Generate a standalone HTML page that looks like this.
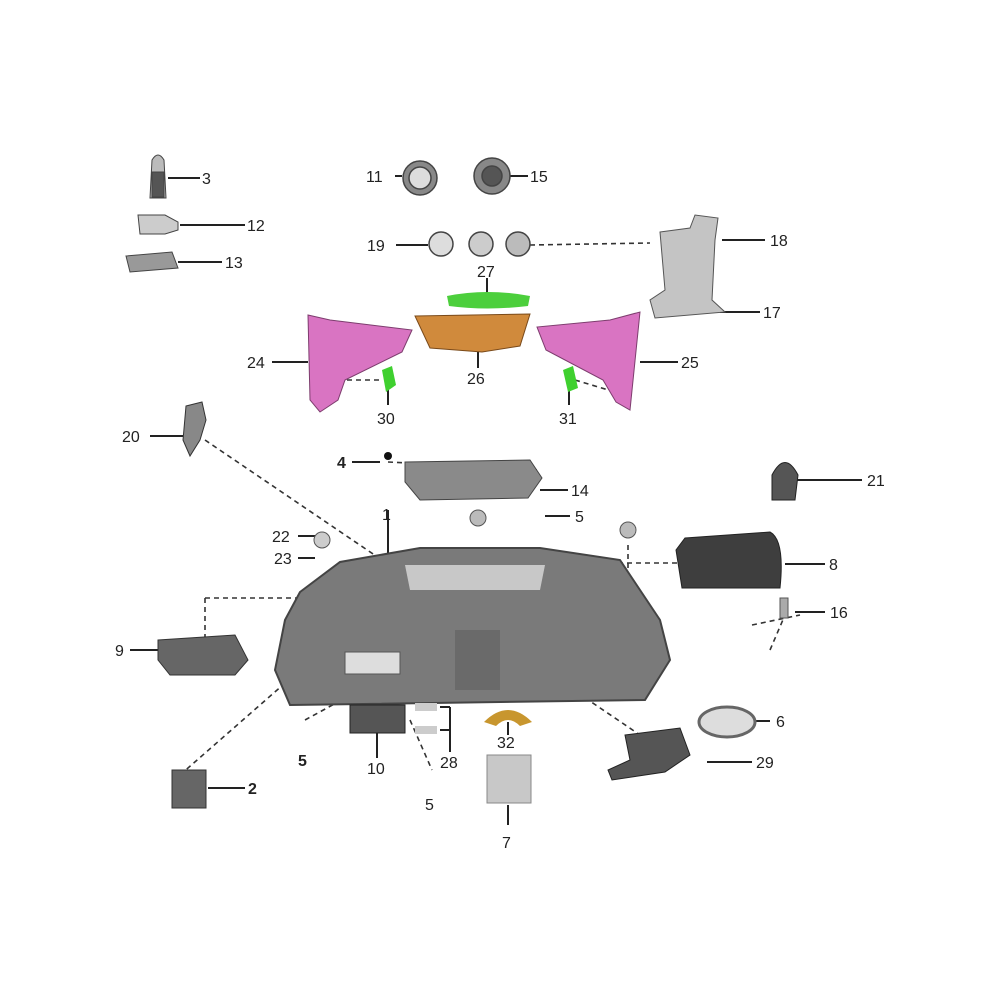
<!DOCTYPE html>
<html><head><meta charset="utf-8"><style>
html,body{margin:0;padding:0;background:#fff;}
svg{display:block}
text{font-family:"Liberation Sans",sans-serif;font-size:16px;fill:#222;}
</style></head><body>
<svg width="1000" height="1000" viewBox="0 0 1000 1000">
<rect width="1000" height="1000" fill="#fff"/>
<g stroke="#222" stroke-width="2" fill="none">
<!-- leader lines -->
<line x1="168" y1="178" x2="200" y2="178"/>
<line x1="180" y1="225" x2="245" y2="225"/>
<line x1="178" y1="262" x2="222" y2="262"/>
<line x1="395" y1="176" x2="402" y2="176"/>
<line x1="510" y1="176" x2="528" y2="176"/>
<line x1="396" y1="245" x2="428" y2="245"/>
<line x1="722" y1="240" x2="765" y2="240"/>
<line x1="720" y1="312" x2="760" y2="312"/>
<line x1="487" y1="278" x2="487" y2="296"/>
<line x1="272" y1="362" x2="308" y2="362"/>
<line x1="640" y1="362" x2="678" y2="362"/>
<line x1="478" y1="350" x2="478" y2="368"/>
<line x1="388" y1="385" x2="388" y2="405"/>
<line x1="569" y1="385" x2="569" y2="405"/>
<line x1="150" y1="436" x2="185" y2="436"/>
<line x1="352" y1="462" x2="380" y2="462"/>
<line x1="540" y1="490" x2="568" y2="490"/>
<line x1="545" y1="516" x2="570" y2="516"/>
<line x1="795" y1="480" x2="862" y2="480"/>
<line x1="785" y1="564" x2="825" y2="564"/>
<line x1="795" y1="612" x2="825" y2="612"/>
<line x1="298" y1="536" x2="315" y2="536"/>
<line x1="298" y1="558" x2="315" y2="558"/>
<line x1="388" y1="510" x2="388" y2="562"/>
<line x1="130" y1="650" x2="158" y2="650"/>
<line x1="208" y1="788" x2="245" y2="788"/>
<line x1="752" y1="721" x2="770" y2="721"/>
<line x1="707" y1="762" x2="752" y2="762"/>
<line x1="377" y1="730" x2="377" y2="758"/>
<line x1="440" y1="707" x2="450" y2="707"/><line x1="450" y1="707" x2="450" y2="752"/><line x1="440" y1="730" x2="450" y2="730"/>
<line x1="508" y1="722" x2="508" y2="735"/>
<line x1="508" y1="805" x2="508" y2="825"/>
</g>
<!-- dashed lines -->
<g stroke="#333" stroke-width="1.6" stroke-dasharray="5,4" fill="none">
<line x1="530" y1="245" x2="650" y2="243"/>
<line x1="338" y1="380" x2="380" y2="380"/>
<line x1="575" y1="380" x2="615" y2="392"/>
<line x1="205" y1="440" x2="640" y2="735"/>
<line x1="388" y1="462" x2="540" y2="470"/>
<line x1="600" y1="563" x2="680" y2="563"/>
<line x1="628" y1="545" x2="628" y2="580"/>
<line x1="205" y1="598" x2="595" y2="598"/>
<line x1="205" y1="598" x2="205" y2="638"/>
<line x1="180" y1="775" x2="300" y2="670"/>
<line x1="305" y1="720" x2="360" y2="690"/>
<line x1="410" y1="720" x2="432" y2="770"/>
<line x1="752" y1="625" x2="800" y2="615"/>
<line x1="770" y1="650" x2="785" y2="615"/>
</g>
<!-- small parts top-left -->
<g fill="#777" stroke="#444" stroke-width="1">
<path d="M152 160 Q158 150 164 160 L166 198 L150 198 Z" fill="#bbb"/>
<rect x="152" y="172" width="12" height="25" fill="#555"/>
<path d="M138 215 L165 215 L178 222 L178 230 L165 234 L140 234 Z" fill="#ccc"/>
<path d="M126 256 L172 252 L178 268 L130 272 Z" fill="#999"/>
</g>
<!-- gauges 11 15 19 -->
<g stroke="#444" stroke-width="1.5">
<circle cx="420" cy="178" r="17" fill="#888"/><circle cx="420" cy="178" r="11" fill="#ddd"/>
<circle cx="492" cy="176" r="18" fill="#888"/><circle cx="492" cy="176" r="10" fill="#555"/>
<circle cx="441" cy="244" r="12" fill="#ddd"/>
<circle cx="481" cy="244" r="12" fill="#ccc"/>
<circle cx="518" cy="244" r="12" fill="#bbb"/>
</g>
<!-- bracket 18/17 -->
<path d="M660 232 L690 228 L695 215 L718 218 L715 240 L712 300 L725 312 L655 318 L650 300 L665 290 Z" fill="#c4c4c4" stroke="#555"/>
<!-- green 27 -->
<path d="M447 296 Q487 288 530 296 L528 306 Q487 311 449 306 Z" fill="#4ccf3c"/>
<!-- orange 26 -->
<path d="M415 316 L530 314 L520 346 L482 352 L430 348 Z" fill="#d08a3c" stroke="#7a4a1a"/>
<!-- pink 24 / 25 -->
<path d="M308 315 L330 320 L412 330 L402 352 L345 380 L338 400 L320 412 L310 400 Z" fill="#d974c2" stroke="#7d3d6e"/>
<path d="M640 312 L630 410 L616 402 L603 380 L546 350 L537 327 L610 320 Z" fill="#d974c2" stroke="#7d3d6e"/>
<path d="M382 370 L392 366 L396 385 L386 392 Z" fill="#3fd02f"/>
<path d="M563 370 L573 366 L578 388 L568 392 Z" fill="#3fd02f"/>
<!-- 20 -->
<path d="M186 406 L202 402 L206 420 L200 440 L190 456 L183 440 Z" fill="#888" stroke="#333"/>
<!-- 14 plate -->
<path d="M405 462 L530 460 L542 478 L528 498 L420 500 L405 482 Z" fill="#8a8a8a" stroke="#444"/>
<circle cx="388" cy="456" r="4" fill="#111"/>
<circle cx="478" cy="518" r="8" fill="#bbb" stroke="#555"/>
<circle cx="628" cy="530" r="8" fill="#bbb" stroke="#555"/>
<circle cx="322" cy="540" r="8" fill="#ccc" stroke="#555"/>
<!-- 21 -->
<path d="M772 475 Q785 450 798 475 L795 500 L772 500 Z" fill="#555" stroke="#222"/>
<!-- 8 -->
<path d="M685 538 L770 532 Q785 540 780 588 L682 588 L676 550 Z" fill="#3e3e3e" stroke="#222"/>
<!-- 16 -->
<rect x="780" y="598" width="8" height="20" fill="#aaa" stroke="#555"/>
<!-- main body 1 -->
<path d="M300 592 L340 562 L420 548 L540 548 L620 560 L640 590 L660 620 L670 660 L645 700 L290 705 L275 670 L285 620 Z" fill="#7a7a7a" stroke="#444" stroke-width="2"/>
<path d="M405 565 L545 565 L540 590 L410 590 Z" fill="#c8c8c8"/>
<rect x="345" y="652" width="55" height="22" fill="#ddd" stroke="#555"/>
<rect x="455" y="630" width="45" height="60" fill="#6a6a6a"/>
<!-- 9 -->
<path d="M158 640 L235 635 L248 660 L235 675 L170 675 L158 660 Z" fill="#666" stroke="#333"/>
<!-- 10 & 28 -->
<rect x="350" y="705" width="55" height="28" fill="#555" stroke="#222"/>
<rect x="415" y="703" width="22" height="8" fill="#ccc"/><rect x="415" y="726" width="22" height="8" fill="#ccc"/>
<!-- 2 -->
<rect x="172" y="770" width="34" height="38" fill="#666" stroke="#333"/>
<!-- 32 -->
<path d="M484 722 Q508 698 532 722 L520 726 Q508 714 496 726 Z" fill="#c8962e"/>
<!-- 7 -->
<rect x="487" y="755" width="44" height="48" fill="#c8c8c8" stroke="#888"/>
<!-- 6 -->
<ellipse cx="727" cy="722" rx="28" ry="15" fill="#ddd" stroke="#666" stroke-width="3"/>
<!-- 29 -->
<path d="M625 735 L680 728 L690 755 L665 772 L612 780 L608 770 L630 760 Z" fill="#555" stroke="#222"/>
<!-- labels -->
<text x="202" y="184">3</text>
<text x="247" y="231">12</text>
<text x="225" y="268">13</text>
<text x="366" y="182">11</text>
<text x="530" y="182">15</text>
<text x="367" y="251">19</text>
<text x="770" y="246">18</text>
<text x="763" y="318">17</text>
<text x="477" y="277">27</text>
<text x="247" y="368">24</text>
<text x="681" y="368">25</text>
<text x="467" y="384">26</text>
<text x="377" y="424">30</text>
<text x="559" y="424">31</text>
<text x="122" y="442">20</text>
<text x="337" y="468" style="font-weight:bold">4</text>
<text x="571" y="496">14</text>
<text x="575" y="522">5</text>
<text x="382" y="520">1</text>
<text x="867" y="486">21</text>
<text x="829" y="570">8</text>
<text x="830" y="618">16</text>
<text x="272" y="542">22</text>
<text x="274" y="564">23</text>
<text x="115" y="656">9</text>
<text x="248" y="794" style="font-weight:bold">2</text>
<text x="298" y="766" style="font-weight:bold">5</text>
<text x="367" y="774">10</text>
<text x="440" y="768">28</text>
<text x="425" y="810">5</text>
<text x="497" y="748">32</text>
<text x="502" y="848">7</text>
<text x="776" y="727">6</text>
<text x="756" y="768">29</text>
</g>
</svg>
</body></html>
